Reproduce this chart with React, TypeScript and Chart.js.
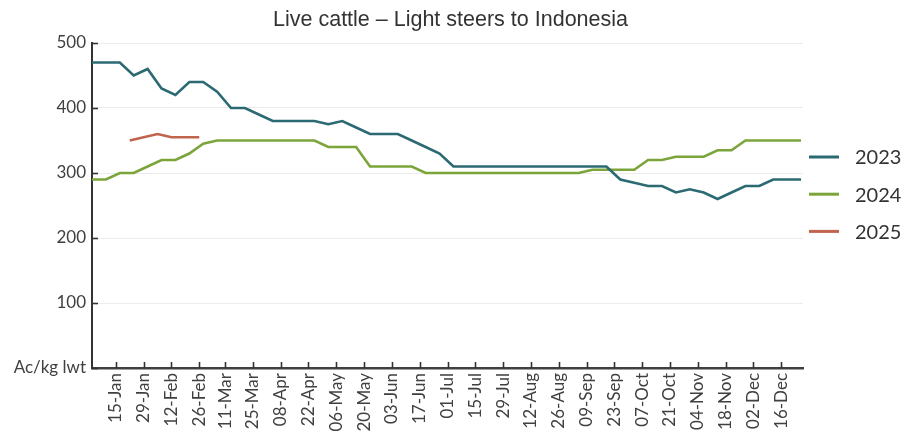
import { useEffect, useRef } from "react";
import { Chart, registerables } from "chart.js";

Chart.register(...registerables);

const titleText = "Live cattle – Light steers to Indonesia";
const yAxisUnit = "Ac/kg lwt";

const seriesLabels = ["2023", "2024", "2025"];
const seriesColors = ["#2b6a72", "#7ba53a", "#c0644e"];
// day-of-year of each series' first weekly observation
const seriesStartDays = [3, 3, 22];

const values2023 = [
  470, 470, 470, 450, 460, 430, 420, 440, 440, 425, 400, 400,
  390, 380, 380, 380, 380, 375, 380, 370, 360, 360, 360, 350, 340, 330,
  310, 310, 310, 310, 310, 310, 310, 310, 310, 310, 310, 310,
  290, 285, 280, 280, 270, 275, 270, 260, 270, 280, 280, 290, 290, 290,
];
const values2024 = [
  290, 290, 300, 300, 310, 320, 320, 330, 345, 350,
  350, 350, 350, 350, 350, 350, 350,
  340, 340, 340,
  310, 310, 310, 310,
  300, 300, 300, 300, 300, 300, 300, 300, 300, 300, 300, 300,
  305, 305, 305, 305,
  320, 320, 325, 325, 325, 335, 335,
  350, 350, 350, 350, 350,
];
const values2025 = [350, 355, 360, 355, 355, 355];

const tickDays = [
  15, 29, 43, 57, 70, 84, 98, 112, 126, 140, 154, 168, 182, 196, 210, 224,
  238, 252, 266, 280, 294, 308, 322, 336, 350,
];
const tickLabels = [
  "15-Jan", "29-Jan", "12-Feb", "26-Feb", "11-Mar", "25-Mar", "08-Apr",
  "22-Apr", "06-May", "20-May", "03-Jun", "17-Jun", "01-Jul", "15-Jul",
  "29-Jul", "12-Aug", "26-Aug", "09-Sep", "23-Sep", "07-Oct", "21-Oct",
  "04-Nov", "18-Nov", "02-Dec", "16-Dec",
];

const seriesValues = [values2023, values2024, values2025];

const axisFont = { family: "Lato", size: 17 };

const extrasPlugin = {
  id: "extras",
  afterDraw(chart: any) {
    const ctx = chart.ctx;
    const { left, right, top, bottom } = chart.chartArea;
    const xs = chart.scales.x;
    const ys = chart.scales.y;
    ctx.save();
    // title, centred on the whole canvas
    ctx.fillStyle = "#333333";
    ctx.font = "21.5px 'Liberation Sans'";
    ctx.textAlign = "center";
    ctx.textBaseline = "middle";
    ctx.fillText(titleText, chart.width / 2 - 2, 20);
    // inward tick marks
    ctx.strokeStyle = "#333333";
    ctx.lineWidth = 1.6;
    xs.ticks.forEach((t: any) => {
      const px = Math.round(xs.getPixelForValue(t.value)) + 0.5;
      ctx.beginPath();
      ctx.moveTo(px, bottom);
      ctx.lineTo(px, bottom - 6);
      ctx.stroke();
    });
    ys.ticks.forEach((t: any) => {
      const py = Math.round(ys.getPixelForValue(t.value)) + 0.5;
      ctx.beginPath();
      ctx.moveTo(left, py);
      ctx.lineTo(left + 6, py);
      ctx.stroke();
    });
    // legend
    chart.data.datasets.forEach((ds: any, i: number) => {
      const y = top + 114 + i * 37.2;
      ctx.strokeStyle = ds.borderColor;
      ctx.lineWidth = 3;
      ctx.beginPath();
      ctx.moveTo(right + 6, y);
      ctx.lineTo(right + 36, y);
      ctx.stroke();
      ctx.fillStyle = "#333333";
      ctx.font = "20px Lato";
      ctx.textBaseline = "middle";
      ctx.textAlign = "left";
      ctx.fillText(ds.label, right + 52, y + 1);
    });
    ctx.restore();
  },
};

export default function App() {
  const canvasRef = useRef<HTMLCanvasElement | null>(null);

  useEffect(() => {
    document.body.style.margin = "0";
    const canvas = canvasRef.current;
    if (!canvas) return;
    const datasets = seriesLabels.map((label, s) => ({
      label,
      data: seriesValues[s].map((v, i) => ({ x: seriesStartDays[s] + 7 * i, y: v })),
      borderColor: seriesColors[s],
      backgroundColor: seriesColors[s],
      borderWidth: 2.6,
      pointRadius: 0,
      tension: 0,
      fill: false,
    }));
    const chart = new Chart(canvas, {
      type: "line",
      data: { datasets },
      plugins: [extrasPlugin],
      options: {
        animation: false,
        responsive: true,
        maintainAspectRatio: false,
        layout: { padding: { left: 0, right: 102, top: 43, bottom: 0 } },
        plugins: {
          legend: { display: false },
          tooltip: { enabled: false },
          title: { display: false },
        },
        scales: {
          x: {
            type: "linear",
            min: 3,
            max: 361,
            afterFit: (scale: any) => {
              scale.height = 65;
            },
            afterBuildTicks: (scale: any) => {
              scale.ticks = tickDays.map((v) => ({ value: v }));
            },
            grid: { display: false, drawTicks: false },
            border: { display: true, color: "#404040", width: 2.5 },
            ticks: {
              autoSkip: false,
              minRotation: 90,
              maxRotation: 90,
              padding: 5,
              color: "#404040",
              font: axisFont,
              callback: (v: any) => {
                const idx = tickDays.indexOf(Number(v));
                return idx >= 0 ? tickLabels[idx] : "";
              },
            },
          },
          y: {
            min: 0,
            max: 500,
            afterFit: (scale: any) => {
              scale.width = 92;
            },
            grid: {
              color: "#ececec",
              lineWidth: 1,
              drawTicks: false,
            },
            border: { display: true, color: "#333333", width: 2 },
            ticks: {
              stepSize: 100,
              padding: 6,
              color: "#404040",
              font: axisFont,
              callback: (v: any) => (Number(v) === 0 ? yAxisUnit : String(v)),
            },
          },
        },
      },
    });
    return () => chart.destroy();
  }, []);

  return (
    <div style={{ width: 905, height: 433, position: "relative" }}>
      <canvas ref={canvasRef} />
    </div>
  );
}
